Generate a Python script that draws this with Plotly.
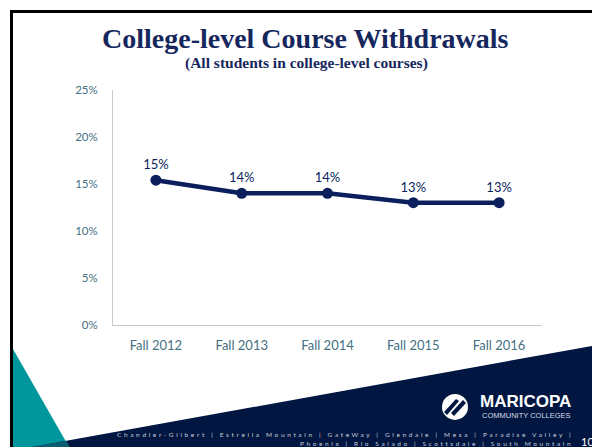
import plotly.graph_objects as go

W, H = 592, 447

categories = ["Fall 2012", "Fall 2013", "Fall 2014", "Fall 2015", "Fall 2016"]
values = [15.4, 14.0, 14.0, 13.0, 13.0]
point_labels = ["15%", "14%", "14%", "13%", "13%"]
y_ticks = [0, 5, 10, 15, 20, 25]
y_tick_labels = ["0%", "5%", "10%", "15%", "20%", "25%"]

title_text = "College-level Course Withdrawals"
subtitle_text = "(All students in college-level courses)"
footer_line1 = "Chandler-Gilbert | Estrella Mountain | GateWay | Glendale | Mesa | Paradise Valley |"
footer_line2 = "Phoenix | Rio Salado | Scottsdale | South Mountain"
page_number = "10"

NAVY = "#0a1f5c"
BAND = "#011641"
TEAL = "#00979c"
TICK = "#44707f"

# the photographed page is shown slightly compressed vertically; map picture pixels to page
SCALE_Y, OFF_Y = 0.971, 6.06


def px(x):
    return x / W


def py(y):
    return 1 - ((y - OFF_Y) / SCALE_Y) / H


def path(points):
    s = "M " + " L ".join(f"{px(x):.5f},{py(y):.5f}" for x, y in points) + " Z"
    return s


fig = go.Figure()
fig.add_trace(go.Scatter(
    x=categories, y=values, mode="lines+markers+text",
    text=point_labels, textposition="top center",
    textfont=dict(family="Lato, Open Sans, sans-serif", size=13, color=NAVY),
    line=dict(color=NAVY, width=4.5),
    marker=dict(color=NAVY, size=11),
    cliponaxis=False, hoverinfo="skip",
))

shapes = [
    # slide frame
    dict(type="rect", xref="paper", yref="paper", x0=px(10), x1=px(592), y0=py(12), y1=py(9),
         fillcolor="black", line=dict(width=0), layer="below"),
    dict(type="rect", xref="paper", yref="paper", x0=px(10), x1=px(13), y0=py(460), y1=py(9),
         fillcolor="black", line=dict(width=0), layer="below"),
    # teal triangle
    dict(type="path", xref="paper", yref="paper", path=path([(13, 348), (77, 460), (13, 460)]),
         fillcolor=TEAL, line=dict(width=0), layer="above"),
    # navy band
    dict(type="path", xref="paper", yref="paper",
         path=path([(13, 449.5), (592, 345), (592, 460), (13, 460)]),
         fillcolor=BAND, line=dict(width=0), layer="above"),
    dict(type="path", xref="paper", yref="paper",
         path=path([(13, 449.5), (66.5, 439.8), (77, 460), (13, 460)]),
         fillcolor="#0b5d70", line=dict(width=0), layer="above"),
    # logo icon
    dict(type="circle", xref="paper", yref="paper", x0=px(442), x1=px(468), y0=py(419), y1=py(393),
         fillcolor="white", line=dict(width=0), layer="above"),
    dict(type="path", xref="paper", yref="paper",
         path=path([(444, 411), (456, 398), (459, 400), (447, 414)]),
         fillcolor=BAND, line=dict(width=0), layer="above"),
    dict(type="path", xref="paper", yref="paper",
         path=path([(451, 412), (463, 399), (466, 402), (454, 415)]),
         fillcolor=BAND, line=dict(width=0), layer="above"),
]

annotations = [
    dict(text=f"<b>{title_text}</b>", x=px(305), y=py(38), xref="paper", yref="paper",
         showarrow=False, xanchor="center", yanchor="middle",
         font=dict(family="Liberation Serif, serif", size=28, color="#16275e")),
    dict(text=f"<b>{subtitle_text}</b>", x=px(306), y=py(62), xref="paper", yref="paper",
         showarrow=False, xanchor="center", yanchor="middle",
         font=dict(family="Liberation Serif, serif", size=15.5, color="#16275e")),
    dict(text="<b>MARICOPA</b>", x=px(479), y=py(401), xref="paper", yref="paper",
         showarrow=False, xanchor="left", yanchor="middle", borderpad=0,
         font=dict(family="Liberation Sans, Arial, sans-serif", size=17, color="white")),
    dict(text="COMMUNITY COLLEGES", x=px(481), y=py(415), xref="paper", yref="paper",
         showarrow=False, xanchor="left", yanchor="middle", borderpad=0,
         font=dict(family="Liberation Sans, Arial, sans-serif", size=7.5, color="#d8dce6")),
    dict(text=f"<span style='letter-spacing:2.64px'>{footer_line1}</span>", x=px(574), y=py(434),
         xref="paper", yref="paper", showarrow=False, xanchor="right", yanchor="middle",
         borderpad=0,
         font=dict(family="Lato, sans-serif", size=6.5, color="#c8cdd8")),
    dict(text=f"<span style='letter-spacing:2.6px'>{footer_line2}</span>", x=px(574), y=py(442.5),
         xref="paper", yref="paper", showarrow=False, xanchor="right", yanchor="middle",
         borderpad=0,
         font=dict(family="Lato, sans-serif", size=6.5, color="#c8cdd8")),
    dict(text=page_number, x=px(580), y=py(441), xref="paper", yref="paper",
         showarrow=False, xanchor="left", yanchor="middle", borderpad=0,
         font=dict(family="Lato, sans-serif", size=11, color="white")),
]

fig.update_layout(
    width=W, height=H,
    margin=dict(l=0, r=0, t=0, b=0),
    paper_bgcolor="white", plot_bgcolor="white",
    showlegend=False,
    shapes=shapes, annotations=annotations,
    xaxis=dict(domain=[px(113), px(542)], type="category", range=[-0.5, 4.5],
               showline=True, linecolor="#c8c8c8", linewidth=1, showgrid=False,
               ticks="", ticklabelstandoff=8, fixedrange=True,
               tickfont=dict(family="Lato, sans-serif", size=13, color=TICK)),
    yaxis=dict(domain=[py(324), py(89)], range=[0, 25], tickvals=y_ticks, ticktext=y_tick_labels,
               showline=True, linecolor="#c8c8c8", linewidth=1, showgrid=False, zeroline=False,
               ticks="", ticklabelstandoff=12, fixedrange=True,
               tickfont=dict(family="Lato, sans-serif", size=11.5, color=TICK)),
)

fig.write_html("out.html", config={"displayModeBar": False, "staticPlot": True},
               post_script="document.body.style.margin='0';document.body.style.overflow='hidden';")
